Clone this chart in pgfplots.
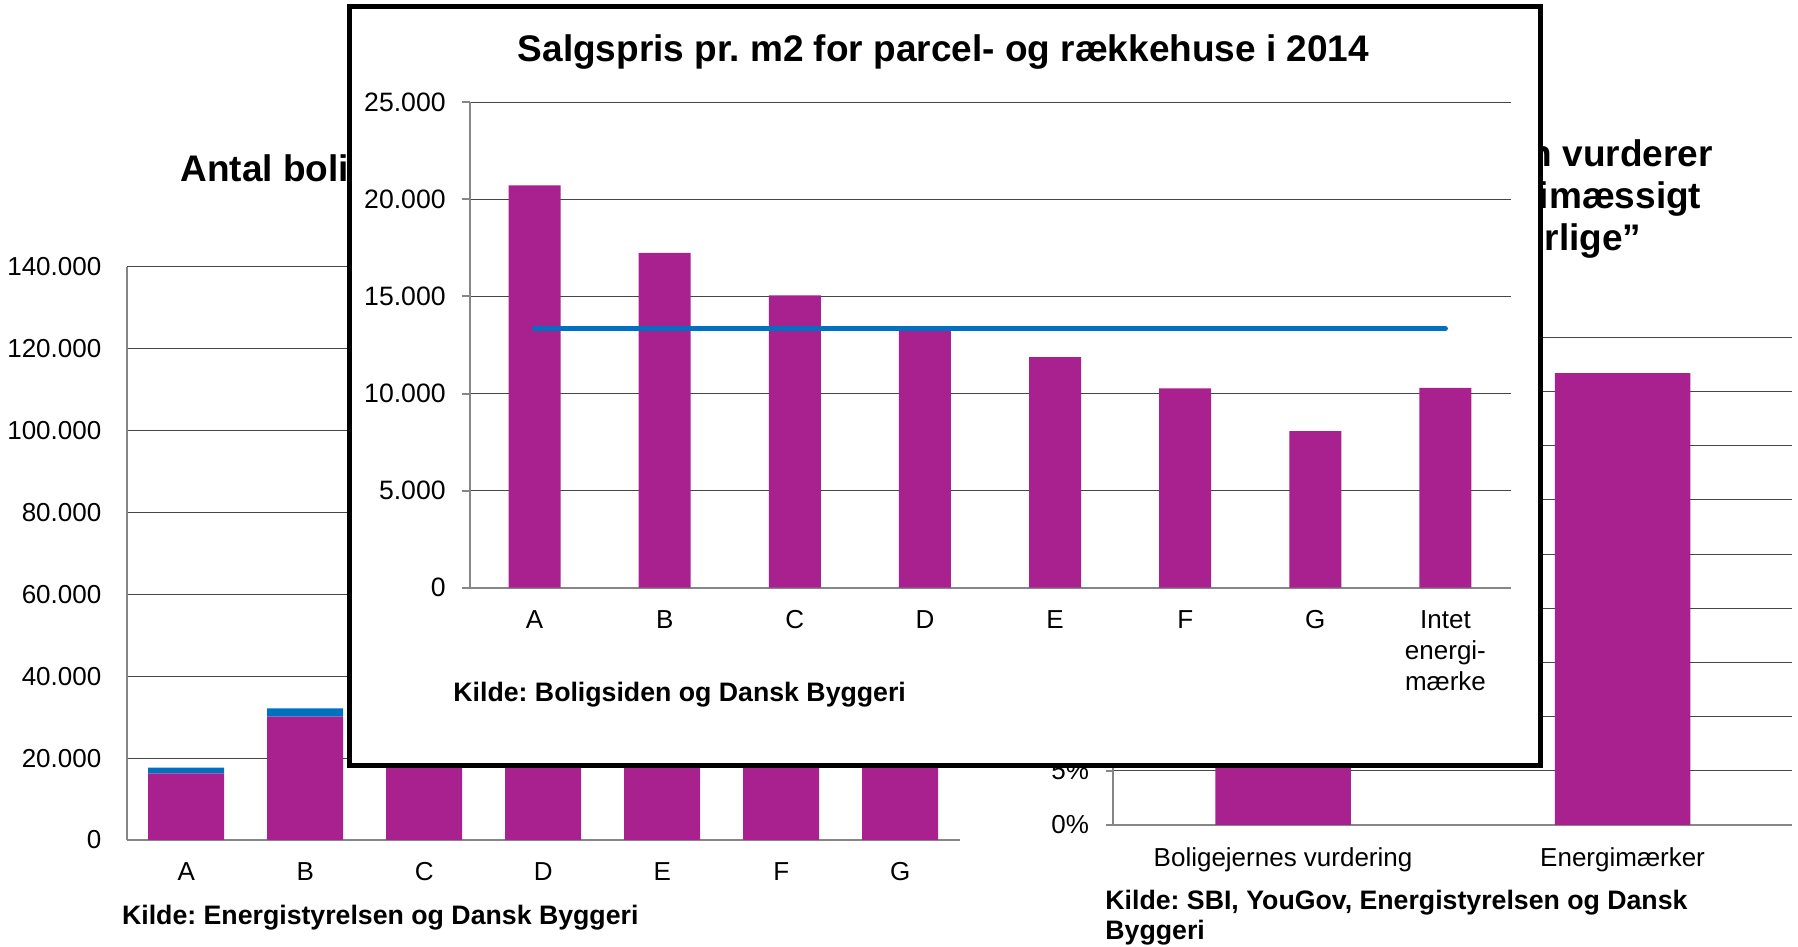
\documentclass[border=0pt]{standalone}
\usepackage{pgfplots}
\pgfplotsset{compat=1.18}
\usepackage{fontspec}
\setmainfont{Liberation Sans}
\frenchspacing

\definecolor{barpurple}{RGB}{168,33,142}
\definecolor{barblue}{RGB}{0,112,192}
\definecolor{gridc}{RGB}{70,70,70}
\definecolor{axisc}{RGB}{134,134,134}

\newcommand{\tickfont}{\fontsize{13pt}{15.5pt}\selectfont}
\newcommand{\kildefont}{\fontsize{13.35pt}{15pt}\selectfont\bfseries}
\newcommand{\titlefont}{\fontsize{18.5pt}{21pt}\selectfont\bfseries}

\pgfplotsset{
  panel/.style={
    scale only axis, anchor=south west,
    axis lines*=left,
    axis line style={axisc, line width=1pt},
    ymajorgrids, grid style={gridc, line width=0.5pt},
    xtick style={draw=none},
    ytick style={draw=none},
    enlargelimits=false,
    scaled y ticks=false,
    ymin=0,
    tick label style={font=\tickfont},
    xticklabel style={anchor=north, inner sep=0pt, yshift=-11.2pt, align=center},
    yticklabel style={anchor=east, inner sep=0pt},
    /pgf/number format/.cd, fixed, precision=0, 1000 sep={.}, assume math mode=true,
  },
}

\begin{document}
\begin{tikzpicture}
\path[use as bounding box] (0,0) rectangle (899pt,473.5pt);

% left chart (behind)
\begin{axis}[panel,
  at={(63.35pt,53.5pt)}, width=416.5pt, height=286.65pt,
  xmin=-0.5, xmax=6.5, ymax=140000, ytick={0,20000,...,140000},
  xtick={0,...,6}, xticklabels={A,B,C,D,E,F,G},
  yticklabel style={xshift=-12.5pt},
  ybar stacked, bar width=38pt,
]
\addplot[fill=barpurple, draw=none] coordinates {(0,16300) (1,30100) (2,98000) (3,118000) (4,86000) (5,52000) (6,41000)};
\addplot[fill=barblue, draw=none] coordinates {(0,1400) (1,2050) (2,3200) (3,3500) (4,2400) (5,1300) (6,900)};
\end{axis}
\node[anchor=base west, font=\titlefont, inner sep=0pt] at (90pt,382.65pt) {Antal boliger fordelt på energimærke};
\node[anchor=base west, font=\kildefont, inner sep=0pt] at (60.85pt,11pt) {Kilde: Energistyrelsen og Dansk Byggeri};

% right chart (behind)
\begin{axis}[panel,
  at={(556.65pt,61pt)}, width=339.5pt, height=243.85pt,
  xmin=-0.5, xmax=1.5, ymax=45, ytick={0,5,...,45},
  xtick={0,1}, xticklabels={Boligejernes vurdering, Energimærker},
  yticklabel={\pgfmathprintnumber{\tick}\%},
  ytick style={draw=axisc, line width=1pt}, ytick align=outside, major tick length=3.5pt,
  yticklabel style={xshift=-8.5pt},
]
\addplot[ybar, bar width=67.8pt, fill=barpurple, draw=none] coordinates {(0,21) (1,41.7)};
\end{axis}
\node[anchor=base east, font=\titlefont, inner sep=0pt] at (856.65pt,390.25pt) {Andel af boliger, som ejeren vurderer};
\node[anchor=base east, font=\titlefont, inner sep=0pt] at (850.85pt,369.25pt) {til at være energimæssigt};
\node[anchor=base east, font=\titlefont, inner sep=0pt] at (820.85pt,348.15pt) {”særlige”};
\node[anchor=base west, font=\kildefont, inner sep=0pt] at (552.5pt,18.5pt) {Kilde: SBI, YouGov, Energistyrelsen og Dansk};
\node[anchor=base west, font=\kildefont, inner sep=0pt] at (552.5pt,3.5pt) {Byggeri};

% framed chart in front
\draw[line width=2.5pt, fill=white] (174.5pt,90.75pt) rectangle (770pt,470.25pt);
\begin{axis}[panel,
  at={(234.75pt,179.65pt)}, width=520.5pt, height=242.7pt,
  xmin=-0.5, xmax=7.5, ymax=25000, ytick={0,5000,...,25000},
  xtick={0,...,7}, xticklabels={A,B,C,D,E,F,G,{Intet\\energi-\\mærke}},
  ytick style={draw=axisc, line width=1pt}, ytick align=outside, major tick length=4pt,
  yticklabel style={xshift=-7.75pt, font=\fontsize{13.3pt}{15.5pt}\selectfont},
]
\addplot[ybar, bar width=26pt, fill=barpurple, draw=none] coordinates {(0,20725) (1,17250) (2,15060) (3,13220) (4,11870) (5,10270) (6,8070) (7,10290)};
\addplot[barblue, line width=2.5pt, line cap=round, mark=none] coordinates {(0,13350) (7,13350)};
\end{axis}
\node[anchor=base, font=\titlefont, inner sep=0pt] at (471.75pt,442.65pt) {Salgspris pr. m2 for parcel- og rækkehuse i 2014};
\node[anchor=base west, font=\kildefont, inner sep=0pt] at (226.5pt,122.65pt) {Kilde: Boligsiden og Dansk Byggeri};
\end{tikzpicture}
\end{document}
